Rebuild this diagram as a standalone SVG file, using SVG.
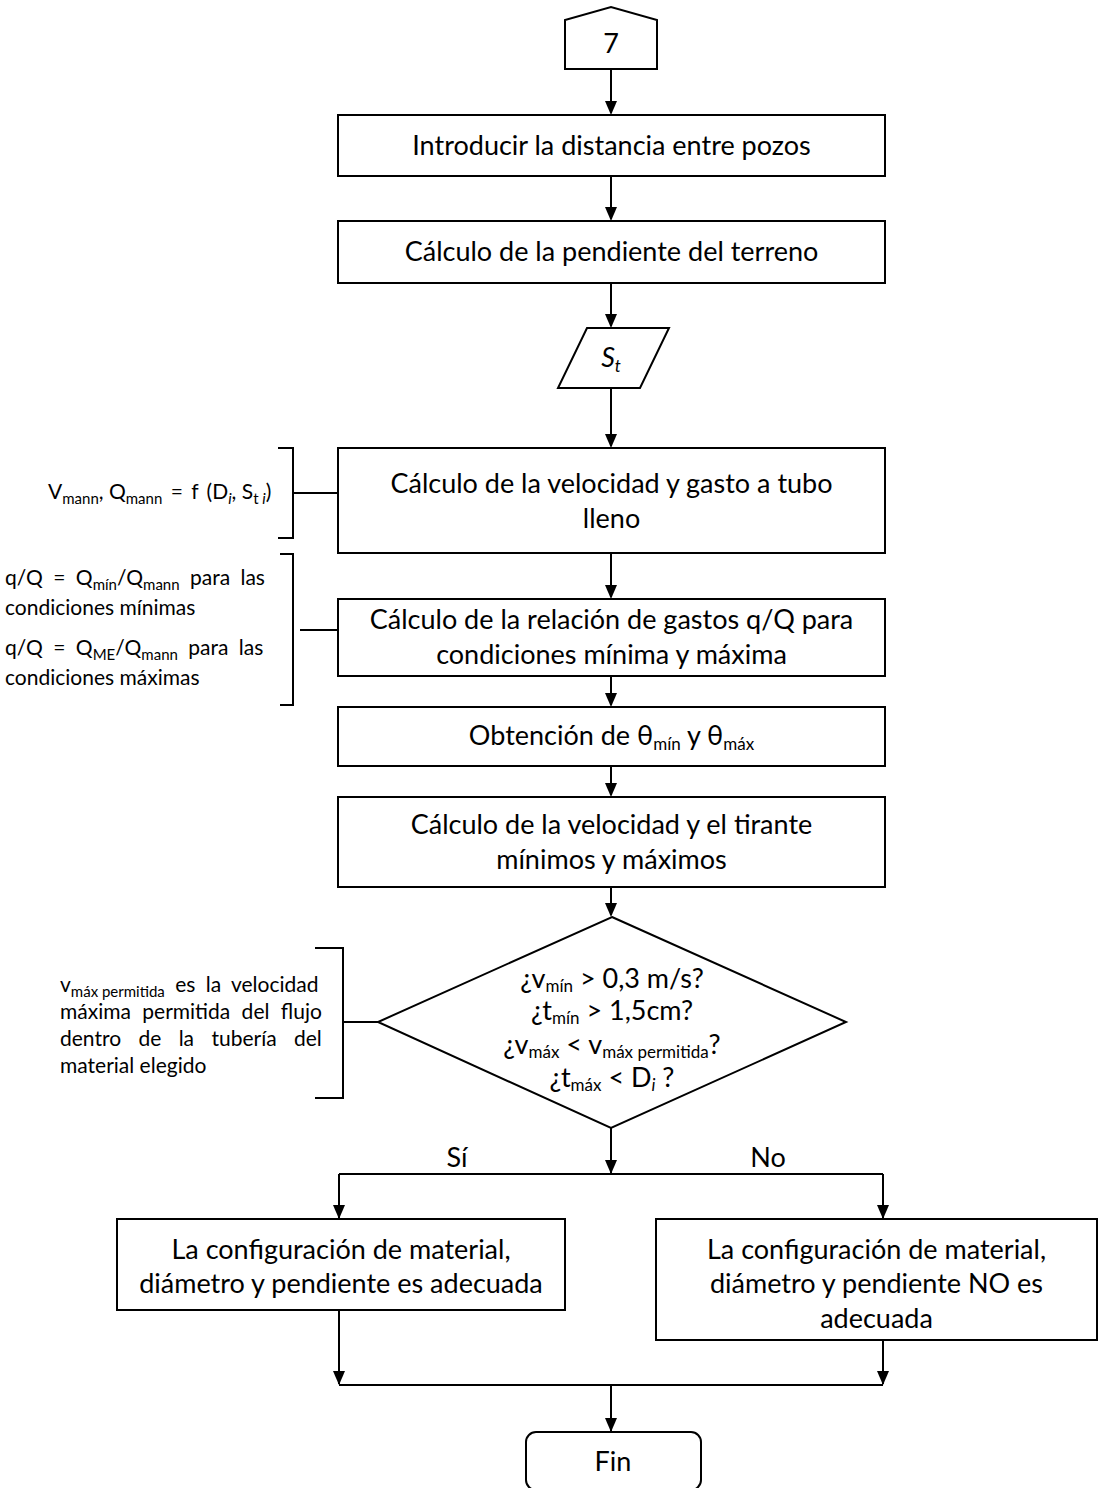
<svg xmlns="http://www.w3.org/2000/svg" width="1105" height="1488" viewBox="0 0 1105 1488">
<defs>
<style>
.box{fill:#fff;stroke:#000;stroke-width:2}
.ln{fill:none;stroke:#000;stroke-width:2}
.t{font-family:Lato,"Liberation Sans",sans-serif;font-size:27px;fill:#000;text-anchor:middle}
.a{font-family:Lato,"Liberation Sans",sans-serif;font-size:21px;fill:#000}
.s{font-size:17px}
.sa{font-size:15px}
</style>
</defs>
<rect width="1105" height="1488" fill="#fff"/>

<g id="connectors">
<path class="ln" d="M611,69 V113"/>
<path class="ln" d="M611,176 V219"/>
<path class="ln" d="M611,283 V326"/>
<path class="ln" d="M611,388 V446"/>
<path class="ln" d="M611,553 V597"/>
<path class="ln" d="M611,676 V705"/>
<path class="ln" d="M611,766 V795"/>
<path class="ln" d="M611,887 V915"/>
<path class="ln" d="M611,1128 V1173"/>
<path class="ln" d="M339,1174 H883"/>
<path class="ln" d="M339,1174 V1218"/>
<path class="ln" d="M883,1174 V1218"/>
<path class="ln" d="M339,1310 V1384"/>
<path class="ln" d="M883,1340 V1384"/>
<path class="ln" d="M339,1385 H883"/>
<path class="ln" d="M611,1385 V1431"/>
<g fill="#000">
<path d="M605,101 H617 L611,115 Z"/>
<path d="M605,207 H617 L611,221 Z"/>
<path d="M605,314 H617 L611,328 Z"/>
<path d="M605,434 H617 L611,448 Z"/>
<path d="M605,585 H617 L611,599 Z"/>
<path d="M605,693 H617 L611,707 Z"/>
<path d="M605,783 H617 L611,797 Z"/>
<path d="M605,903 H617 L611,917 Z"/>
<path d="M605,1160 H617 L611,1174 Z"/>
<path d="M333,1205 H345 L339,1219 Z"/>
<path d="M877,1205 H889 L883,1219 Z"/>
<path d="M333,1371 H345 L339,1385 Z"/>
<path d="M877,1371 H889 L883,1385 Z"/>
<path d="M605,1418 H617 L611,1432 Z"/>
</g>
<path class="ln" d="M293,493 H338"/>
<path class="ln" d="M300,630 H338"/>
<path class="ln" d="M343,1022 H378"/>
</g>

<g id="n7">
<path class="box" d="M565,69 V20 L611,7 L657,20 V69 Z"/>
<text class="t" x="611" y="53">7</text>
</g>

<g id="n1">
<rect class="box" x="338" y="115" width="547" height="61"/>
<text class="t" x="611.5" y="155">Introducir la distancia entre pozos</text>
</g>

<g id="n2">
<rect class="box" x="338" y="221" width="547" height="62"/>
<text class="t" x="611.5" y="261">Cálculo de la pendiente del terreno</text>
</g>

<g id="n3">
<path class="box" d="M587,328 H669 L640,388 H558 Z"/>
<text class="t" x="611" y="367" font-style="italic">S<tspan class="s" dy="5">t</tspan></text>
</g>

<g id="n4">
<rect class="box" x="338" y="448" width="547" height="105"/>
<text class="t" x="611.5" y="493">Cálculo de la velocidad y gasto a tubo</text>
<text class="t" x="611.5" y="528">lleno</text>
</g>

<g id="n5">
<rect class="box" x="338" y="599" width="547" height="77"/>
<text class="t" x="611.5" y="629">Cálculo de la relación de gastos q/Q para</text>
<text class="t" x="611.5" y="664">condiciones mínima y máxima</text>
</g>

<g id="n6">
<rect class="box" x="338" y="707" width="547" height="59"/>
<text class="t" x="611.5" y="745">Obtención de θ<tspan class="s" dy="5">mín</tspan><tspan dy="-5"> y θ</tspan><tspan class="s" dy="5">máx</tspan></text>
</g>

<g id="n7b">
<rect class="box" x="338" y="797" width="547" height="90"/>
<text class="t" x="611.5" y="834">Cálculo de la velocidad y el tirante</text>
<text class="t" x="611.5" y="869">mínimos y máximos</text>
</g>

<g id="n8">
<path class="box" d="M612,917 L846,1022 L611,1128 L378,1022 Z"/>
<text class="t" x="612" y="988">¿v<tspan class="s" dy="4">mín</tspan><tspan dy="-4"> &gt; 0,3 m/s?</tspan></text>
<text class="t" x="612" y="1020">¿t<tspan class="s" dy="4">mín</tspan><tspan dy="-4"> &gt; 1,5cm?</tspan></text>
<text class="t" x="612" y="1054">¿v<tspan class="s" dy="4">máx</tspan><tspan dy="-4"> &lt; v</tspan><tspan class="s" dy="4">máx permitida</tspan><tspan dy="-4">?</tspan></text>
<text class="t" x="612" y="1087">¿t<tspan class="s" dy="4">máx</tspan><tspan dy="-4"> &lt; D</tspan><tspan class="s" dy="4" font-style="italic">i</tspan><tspan dy="-4"> ?</tspan></text>
</g>

<g id="labels">
<text class="t" x="457" y="1167">Sí</text>
<text class="t" x="768" y="1167">No</text>
</g>

<g id="n9">
<rect class="box" x="117" y="1219" width="448" height="91"/>
<text class="t" x="341" y="1259">La configuración de material,</text>
<text class="t" x="341" y="1293">diámetro y pendiente es adecuada</text>
</g>

<g id="n10">
<rect class="box" x="656" y="1219" width="441" height="121"/>
<text class="t" x="876.5" y="1259">La configuración de material,</text>
<text class="t" x="876.5" y="1293">diámetro y pendiente NO es</text>
<text class="t" x="876.5" y="1328">adecuada</text>
</g>

<g id="n11">
<rect class="box" x="526" y="1432" width="175" height="58" rx="10" ry="10"/>
<text class="t" x="613" y="1471">Fin</text>
</g>

<g id="ann1">
<path class="ln" d="M278,448 H293 V538 H278"/>
<text class="a" x="48" y="499">V<tspan class="sa" dy="5">mann</tspan><tspan dy="-5">, Q</tspan><tspan class="sa" dy="5">mann</tspan><tspan dy="-5" word-spacing="3"> = f (D</tspan><tspan class="sa" dy="5" font-style="italic">i</tspan><tspan dy="-5">, S</tspan><tspan class="sa" dy="5">t </tspan><tspan class="sa" font-style="italic">i</tspan><tspan dy="-5">)</tspan></text>
</g>

<g id="ann2">
<path class="ln" d="M280,554 H293 V705 H280"/>
<text class="a" x="5" y="585" word-spacing="5">q/Q = Q<tspan class="sa" dy="5">mín</tspan><tspan dy="-5">/Q</tspan><tspan class="sa" dy="5">mann</tspan><tspan dy="-5"> para las</tspan></text>
<text class="a" x="5" y="615">condiciones mínimas</text>
<text class="a" x="5" y="655" word-spacing="5">q/Q = Q<tspan class="sa" dy="5">ME</tspan><tspan dy="-5">/Q</tspan><tspan class="sa" dy="5">mann</tspan><tspan dy="-5"> para las</tspan></text>
<text class="a" x="5" y="685">condiciones máximas</text>
</g>

<g id="ann3">
<path class="ln" d="M315,948 H343 V1098 H315"/>
<text class="a" x="60" y="992">v<tspan class="sa" dy="5">máx permitida</tspan><tspan dy="-5" word-spacing="5"> es la velocidad</tspan></text>
<text class="a" x="60" y="1019" word-spacing="6">máxima permitida del flujo</text>
<text class="a" x="60" y="1046" word-spacing="12">dentro de la tubería del</text>
<text class="a" x="60" y="1073">material elegido</text>
</g>
</svg>
